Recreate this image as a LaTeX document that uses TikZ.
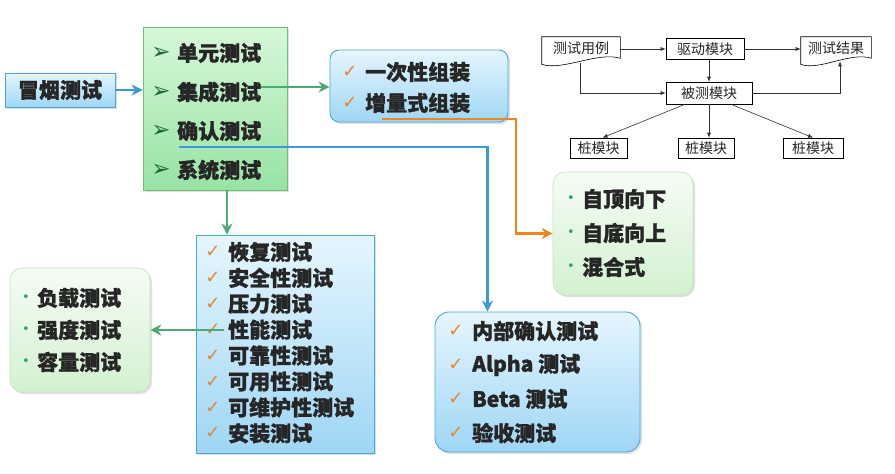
\documentclass[tikz,border=0pt]{standalone}
\usepackage{fontspec}
\newfontfamily\cjk{Noto Sans CJK SC}[BoldFeatures={FakeBold=1.3}]
\newfontfamily\sym{DejaVu Sans}
\usetikzlibrary{shadows,arrows.meta,calc}
\definecolor{txt}{HTML}{262626}
\definecolor{bluearrow}{HTML}{3A9AD9}
\definecolor{greenarrow}{HTML}{4DAA72}
\definecolor{orangeline}{HTML}{EE8422}
\definecolor{checkor}{HTML}{E8852E}
\definecolor{bulletg}{HTML}{3AA070}
\definecolor{arrowhd}{HTML}{1F6B3A}
\definecolor{bluetop}{HTML}{E6F6FE}
\definecolor{bluebot}{HTML}{9ED6F5}
\definecolor{blueedge}{HTML}{4BA6DF}
\definecolor{greentop}{HTML}{D6F8DA}
\definecolor{greenbot}{HTML}{98E2A4}
\definecolor{greenedge}{HTML}{6CC07A}
\definecolor{softtop}{HTML}{F6FCF5}
\definecolor{softbot}{HTML}{D3F1D1}
\definecolor{softedge}{HTML}{C3E4C0}
\begin{document}
\begin{tikzpicture}[x=1pt,y=-1pt,font=\cjk,
  item/.style={anchor=west,inner sep=0pt,font=\cjk\bfseries\fontsize{21}{24}\selectfont,text=txt},
  chk/.style={inner sep=0pt,font=\sym\bfseries\fontsize{18}{18}\selectfont,text=checkor},
  tri/.style={inner sep=0pt,font=\sym\fontsize{23}{23}\selectfont,text=arrowhd},
  bul/.style={inner sep=0pt,font=\sym\fontsize{13}{13}\selectfont,text=bulletg},
  shd/.style={drop shadow={opacity=0.25,shadow xshift=2pt,shadow yshift=-2pt}},
  bluebox/.style={draw=blueedge,line width=0.9pt,top color=bluetop,bottom color=bluebot,inner sep=0pt,shd},
  greenbox/.style={draw=greenedge,line width=0.9pt,top color=greentop,bottom color=greenbot,inner sep=0pt,shd},
  softgreen/.style={draw=softedge,line width=0.6pt,rounded corners=12pt,top color=softtop,bottom color=softbot,inner sep=0pt,shd},
  thinbox/.style={draw=black,line width=0.6pt,inner sep=0pt,font=\cjk\fontsize{14}{14}\selectfont,text=black!85},
  thinarr/.style={draw=black!80,line width=0.6pt,-{Latex[length=5pt,width=4pt]}},
  barr/.style={draw=bluearrow,line width=2.8pt,-{Stealth[length=11pt,width=11pt]}},
  garr/.style={draw=greenarrow,line width=2.8pt,-{Stealth[length=11pt,width=11pt]}},
  oarr/.style={draw=orangeline,line width=2.8pt,-{Stealth[length=11pt,width=11pt]}}]
\useasboundingbox (0,0) rectangle (895,474);

% ---- boxes ----
\node[bluebox,minimum width=110pt,minimum height=34pt,font=\cjk\bfseries\fontsize{21}{24}\selectfont,text=txt] (smoke) at (60,90) {冒烟测试};
\node[greenbox,minimum width=144pt,minimum height=163pt] (glist) at (215,108.5) {};
\node[bluebox,rounded corners=9pt,minimum width=178pt,minimum height=72pt] (asm) at (419,86) {};
\node[softgreen,minimum width=140pt,minimum height=123pt] (td) at (623,233.5) {};
\node[bluebox,minimum width=178pt,minimum height=218pt] (big) at (285,344) {};
\node[softgreen,minimum width=140pt,minimum height=124pt] (load) at (80,330) {};
\node[bluebox,rounded corners=14pt,minimum width=205pt,minimum height=140pt] (acc) at (537.5,382) {};

% ---- green list ----
\foreach \t [count=\i] in {单元测试,集成测试,确认测试,系统测试}{
  \node[tri] (ga\i) at (161,{53+(\i-1)*39}) {➢};
  \node[item] (g\i) at (177,{53+(\i-1)*39}) {\t};
}
% ---- assembly ----
\foreach \t [count=\i] in {一次性组装,增量式组装}{
  \node[chk] (am\i) at (350,{72+(\i-1)*31}) {✓};
  \node[item] (a\i) at (365,{72+(\i-1)*31}) {\t};
}
% ---- top-down ----
\foreach \t [count=\i] in {自顶向下,自底向上,混合式}{
  \node[bul] (tb\i) at (571,{199+(\i-1)*34}) {•};
  \node[item] (t\i) at (582,{199+(\i-1)*34}) {\t};
}
% ---- big list ----
\foreach \t [count=\i] in {恢复测试,安全性测试,压力测试,性能测试,可靠性测试,可用性测试,可维护性测试,安装测试}{
  \node[chk] (bm\i) at (213,{252+(\i-1)*25.9}) {✓};
  \node[item] (b\i) at (228,{252+(\i-1)*25.9}) {\t};
}
% ---- load ----
\foreach \t [count=\i] in {负载测试,强度测试,容量测试}{
  \node[bul] (lb\i) at (26,{298+(\i-1)*32}) {•};
  \node[item] (l\i) at (37,{298+(\i-1)*32}) {\t};
}
% ---- acceptance ----
\foreach \t [count=\i] in {内部确认测试,Alpha 测试,Beta 测试,验收测试}{
  \node[chk] (cm\i) at (456,{331+(\i-1)*34}) {✓};
  \node[item] (c\i) at (472,{331+(\i-1)*34}) {\t};
}

% ---- connectors ----
\draw[barr] (smoke.east) -- (smoke.east -| glist.west);
\draw[garr] ([yshift=5pt]g2.east) -- ([yshift=5pt]g2.east -| asm.west);
\draw[barr] ([xshift=2pt,yshift=-16pt]g3.west) -| ([xshift=-50pt]acc.north);
\draw[oarr] ([xshift=17pt,yshift=-16pt]a2.west) -- ++(134,0) |- (td.west);
\coordinate (sysdown) at ([xshift=-58pt]big.north);
\draw[garr] (sysdown |- glist.south) -- (sysdown);
\draw[garr] ([xshift=28pt]big.west |- load.east) -- (load.east);

% ---- top-right diagram ----
\node[thinbox,draw=none,minimum width=78pt,minimum height=22pt] (tc) at (581,48) {测试用例};
\draw[line width=0.6pt] (tc.north west) -- (tc.north east) -- ([yshift=1pt]tc.south east)
  .. controls ([xshift=-22pt,yshift=8pt]tc.south east) and ([xshift=20pt,yshift=-12pt]tc.south west) .. ([yshift=-5pt]tc.south west) -- cycle;
\node[thinbox,draw=none,minimum width=70pt,minimum height=22pt] (tr) at (836,48) {测试结果};
\draw[line width=0.6pt] (tr.north west) -- (tr.north east) -- ([yshift=1pt]tr.south east)
  .. controls ([xshift=-20pt,yshift=8pt]tr.south east) and ([xshift=18pt,yshift=-12pt]tr.south west) .. ([yshift=-5pt]tr.south west) -- cycle;
\node[thinbox,minimum width=78pt,minimum height=21pt] (drv) at (705,49) {驱动模块};
\node[thinbox,minimum width=86pt,minimum height=22pt] (tst) at (709,93) {被测模块};
\node[thinbox,minimum width=57pt,minimum height=20pt] (s1) at (598.5,148) {桩模块};
\node[thinbox,minimum width=56pt,minimum height=20pt] (s2) at (706,148) {桩模块};
\node[thinbox,minimum width=60pt,minimum height=20pt] (s3) at (813,148) {桩模块};

\draw[thinarr] (drv.west -| tc.east) -- (drv.west);
\draw[thinarr] (drv.east) -- (drv.east -| tr.west);
\draw[thinarr] (drv.south -| tst.north) -- (tst.north);
\draw[thinarr] ([xshift=-1pt,yshift=-4pt]tc.south) |- (tst.west);
\draw[thinarr] (tst.east) -| ([xshift=4pt,yshift=-2pt]tr.south);
\draw[thinarr] ([xshift=-24pt]tst.south) -- ([xshift=4pt]s1.north);
\draw[thinarr] (tst.south) -- (tst.south |- s2.north);
\draw[thinarr] ([xshift=22pt]tst.south) -- (s3.north);
\end{tikzpicture}
\end{document}
